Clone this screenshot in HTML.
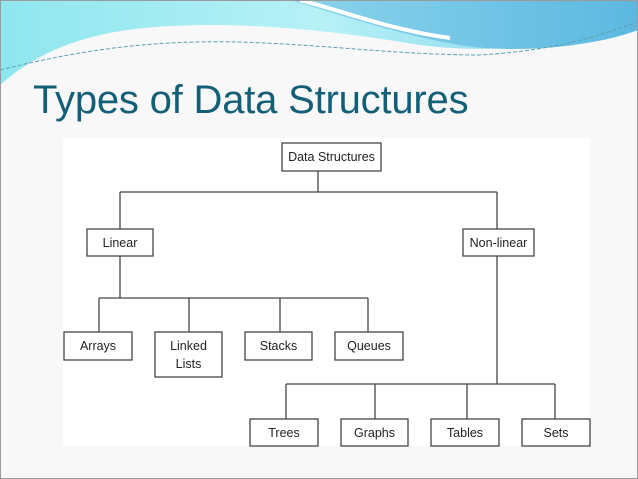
<!DOCTYPE html>
<html><head><style>
body{margin:0;width:638px;height:479px;overflow:hidden;background:#f8f8f8;font-family:"Liberation Sans",sans-serif;position:relative}
.t{position:absolute;left:33px;top:78px;font-size:40px;color:#135f78;white-space:nowrap;letter-spacing:-0.2px}
</style></head><body>
<svg width="638" height="479" style="position:absolute;left:0;top:0">
<defs>
<linearGradient id="g1" x1="0" y1="0" x2="1" y2="0"><stop offset="0" stop-color="#8fe6ef"/><stop offset="0.5" stop-color="#b6f1f6"/><stop offset="1" stop-color="#7fd0ea"/></linearGradient>
<linearGradient id="g2" x1="0" y1="0" x2="1" y2="0"><stop offset="0" stop-color="#8cd4ec"/><stop offset="1" stop-color="#5cb8e0"/></linearGradient>
</defs>
<path d="M0 0 H638 V20 C560 45 500 55 420 45 C330 30 250 22 170 26 C90 30 40 50 0 85 Z" fill="url(#g1)"/>
<path d="M290 0 H638 V30 C600 45 520 55 460 45 C400 35 340 15 290 0 Z" fill="url(#g2)"/>
<path d="M300 0 C340 10 390 30 450 38" stroke="#fff" stroke-width="4" fill="none"/>
<path d="M0 70 C80 50 150 40 240 42 C330 45 400 55 480 55 C560 50 600 35 638 22" stroke="#5a9fae" stroke-width="1" stroke-dasharray="4 2" fill="none"/>
<rect x="0.5" y="0.5" width="637" height="478" fill="none" stroke="#9a9a9a"/>
<rect x="63" y="138" width="527" height="308" fill="#fff"/>
<g stroke="#444" stroke-width="1.3" fill="none">
<line x1="318" y1="171" x2="318" y2="192"/>
<line x1="120" y1="192" x2="497" y2="192"/>
<line x1="120" y1="192" x2="120" y2="229"/>
<line x1="497" y1="192" x2="497" y2="229"/>
<line x1="120" y1="256" x2="120" y2="298"/>
<line x1="99" y1="298" x2="368" y2="298"/>
<line x1="99" y1="298" x2="99" y2="332"/>
<line x1="189" y1="298" x2="189" y2="332"/>
<line x1="280" y1="298" x2="280" y2="332"/>
<line x1="368" y1="298" x2="368" y2="332"/>
<line x1="497" y1="256" x2="497" y2="384"/>
<line x1="286" y1="384" x2="555" y2="384"/>
<line x1="286" y1="384" x2="286" y2="419"/>
<line x1="375" y1="384" x2="375" y2="419"/>
<line x1="467" y1="384" x2="467" y2="419"/>
<line x1="555" y1="384" x2="555" y2="419"/>
<rect x="282" y="143" width="99" height="28"/>
<rect x="87" y="229" width="66" height="27"/>
<rect x="463" y="229" width="71" height="27"/>
<rect x="64" y="332" width="68" height="28"/>
<rect x="155" y="332" width="67" height="45"/>
<rect x="245" y="332" width="67" height="28"/>
<rect x="335" y="332" width="68" height="28"/>
<rect x="250" y="419" width="68" height="27"/>
<rect x="341" y="419" width="67" height="27"/>
<rect x="431" y="419" width="68" height="27"/>
<rect x="522" y="419" width="68" height="27"/>
</g>
<g font-family="Liberation Sans, sans-serif" font-size="12.5" fill="#222" text-anchor="middle">
<text x="331.5" y="161">Data  Structures</text>
<text x="120" y="247">Linear</text>
<text x="498.5" y="247">Non-linear</text>
<text x="98" y="350">Arrays</text>
<text x="188.5" y="350">Linked</text>
<text x="188.5" y="368">Lists</text>
<text x="278.5" y="350">Stacks</text>
<text x="369" y="350">Queues</text>
<text x="284" y="437">Trees</text>
<text x="374.5" y="437">Graphs</text>
<text x="465" y="437">Tables</text>
<text x="556" y="437">Sets</text>
</g>
</svg>
<div class="t">Types of Data Structures</div>
</body></html>
